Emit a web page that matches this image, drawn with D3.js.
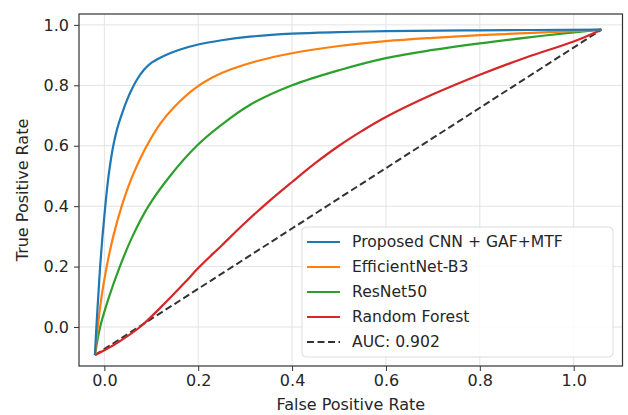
<!DOCTYPE html>
<html>
  <head>
  <title>ROC Curves</title>
  <style>
    body, html {
      margin: 0;
      padding: 0;
      background: #fff;
    }
    svg text {
      font-family: "DejaVu Sans", sans-serif;
      fill: #262626;
    }
  </style>
  </head>
  <body>
    <svg id="svg" width="628" height="415"></svg>
  <script src="https://cdn.jsdelivr.net/npm/d3@7"></script>
  <script>
    // values
    const seriesNames = ["Proposed CNN + GAF+MTF", "EfficientNet-B3", "ResNet50", "Random Forest"]
    const seriesColors = ["#1f77b4", "#ff7f0e", "#2ca02c", "#d62728"]

    const fprProposed = [-0.02, -0.017, -0.013, -0.009, -0.004, 0.002, 0.009, 0.019, 0.028, 0.038, 0.048, 0.058, 0.07, 0.085, 0.1, 0.12, 0.14, 0.165, 0.2, 0.25, 0.31, 0.4, 0.5, 0.6, 0.8, 1.059]
    const tprProposed = [-0.093, 0.0, 0.1, 0.2, 0.3, 0.4, 0.5, 0.6, 0.66, 0.708, 0.75, 0.785, 0.82, 0.852, 0.874, 0.892, 0.906, 0.92, 0.935, 0.949, 0.961, 0.971, 0.976, 0.979, 0.982, 0.984]

    const fprEfficient = [-0.02, -0.014, -0.006, 0.005, 0.019, 0.037, 0.06, 0.087, 0.12, 0.15, 0.193, 0.23, 0.27, 0.33, 0.4, 0.5, 0.6, 0.7, 0.8, 0.9, 1.0, 1.059]
    const tprEfficient = [-0.093, 0.0, 0.1, 0.2, 0.3, 0.4, 0.5, 0.59, 0.675, 0.73, 0.79, 0.826, 0.853, 0.882, 0.906, 0.93, 0.946, 0.957, 0.966, 0.973, 0.979, 0.984]

    const fprResNet = [-0.02, -0.009, 0.01, 0.033, 0.06, 0.094, 0.14, 0.197, 0.25, 0.31, 0.4, 0.5, 0.6, 0.7, 0.8, 0.9, 1.0, 1.059]
    const tprResNet = [-0.093, 0.0, 0.1, 0.2, 0.3, 0.4, 0.5, 0.6, 0.67, 0.735, 0.8, 0.85, 0.89, 0.917, 0.939, 0.958, 0.975, 0.984]

    const fprForest = [-0.02, 0.0, 0.03, 0.076, 0.12, 0.172, 0.2, 0.25, 0.3, 0.35, 0.4, 0.45, 0.5, 0.55, 0.6, 0.7, 0.8, 0.9, 1.0, 1.059]
    const tprForest = [-0.093, -0.077, -0.05, 0.0, 0.065, 0.148, 0.195, 0.27, 0.345, 0.415, 0.48, 0.543, 0.6, 0.65, 0.695, 0.77, 0.835, 0.893, 0.945, 0.984]

    const fprChance = [-0.02, 1.059]
    const tprChance = [-0.093, 0.984]
    const chanceLabel = "AUC: 0.902"

    const xTicks = [0.0, 0.2, 0.4, 0.6, 0.8, 1.0]
    const yTicks = [0.0, 0.2, 0.4, 0.6, 0.8, 1.0]

    function renderChart() {
      const svg = d3.select('#svg')
      const plot = { left: 79, right: 622.5, top: 14, bottom: 366 }

      const xScale = d3.scaleLinear().domain([-0.054, 1.104]).range([plot.left, plot.right])
      const yScale = d3.scaleLinear().domain([-0.129, 1.036]).range([plot.bottom, plot.top])

      // grid
      svg.append("g")
        .selectAll("line")
        .data(xTicks)
        .enter().append("line")
        .attr("x1", d => xScale(d)).attr("x2", d => xScale(d))
        .attr("y1", plot.top).attr("y2", plot.bottom)
        .attr("stroke", "#e3e3e3").attr("stroke-width", 1)
      svg.append("g")
        .selectAll("line")
        .data(yTicks)
        .enter().append("line")
        .attr("y1", d => yScale(d)).attr("y2", d => yScale(d))
        .attr("x1", plot.left).attr("x2", plot.right)
        .attr("stroke", "#e3e3e3").attr("stroke-width", 1)

      // axes
      const xAxis = svg.append("g")
        .attr("transform", `translate(0, ${plot.bottom})`)
        .call(d3.axisBottom(xScale).tickValues(xTicks).tickFormat(d3.format(".1f")).tickSize(5).tickPadding(4))
      const yAxis = svg.append("g")
        .attr("transform", `translate(${plot.left}, 0)`)
        .call(d3.axisLeft(yScale).tickValues(yTicks).tickFormat(d3.format(".1f")).tickSize(5).tickPadding(5))
      for (const ax of [xAxis, yAxis]) {
        ax.select(".domain").remove()
        ax.selectAll("line").attr("stroke", "#333")
        ax.selectAll("text").style("font-size", "16px").attr("fill", "#262626")
      }

      // curves
      const line = d3.line()
        .x(d => xScale(d[0]))
        .y(d => yScale(d[1]))
        .curve(d3.curveCatmullRom.alpha(0.5))

      const curves = [
        [fprProposed, tprProposed],
        [fprEfficient, tprEfficient],
        [fprResNet, tprResNet],
        [fprForest, tprForest]
      ]

      svg.append("path")
        .datum(d3.zip(fprChance, tprChance))
        .attr("d", line)
        .attr("fill", "none")
        .attr("stroke", "#333")
        .attr("stroke-width", 2)
        .attr("stroke-dasharray", "7,3.5")

      // draw in reverse so the proposed curve sits on top
      for (let i = curves.length - 1; i >= 0; i--) {
        svg.append("path")
          .datum(d3.zip(curves[i][0], curves[i][1]))
          .attr("d", line)
          .attr("fill", "none")
          .attr("stroke", seriesColors[i])
          .attr("stroke-width", 2.2)
          .attr("stroke-linejoin", "round")
      }

      // frame
      svg.append("rect")
        .attr("x", plot.left).attr("y", plot.top)
        .attr("width", plot.right - plot.left).attr("height", plot.bottom - plot.top)
        .attr("fill", "none").attr("stroke", "#333").attr("stroke-width", 1.2)

      // axis labels
      svg.append("text")
        .attr("x", (plot.left + plot.right) / 2).attr("y", 410)
        .attr("text-anchor", "middle")
        .style("font-size", "16px")
        .text("False Positive Rate")
      svg.append("text")
        .attr("transform", `translate(28, ${(plot.top + plot.bottom) / 2}) rotate(-90)`)
        .attr("text-anchor", "middle")
        .style("font-size", "16px")
        .text("True Positive Rate")

      // legend
      const legendData = seriesNames.map((name, i) => ({ label: name, color: seriesColors[i], dash: null }))
      legendData.push({ label: chanceLabel, color: "#333", dash: "7,3.5" })

      const legend = svg.append("g")
        .attr("transform", "translate(302, 227)")
      legend.append("rect")
        .attr("width", 311).attr("height", 130)
        .attr("rx", 4)
        .attr("fill", "#fff").attr("fill-opacity", 0.85)
        .attr("stroke", "#dcdcdc")
      legend.selectAll("line")
        .data(legendData)
        .enter().append("line")
        .attr("x1", 5).attr("x2", 38)
        .attr("y1", (d, i) => 15 + i * 25).attr("y2", (d, i) => 15 + i * 25)
        .attr("stroke", d => d.color)
        .attr("stroke-width", 2.2)
        .attr("stroke-dasharray", d => d.dash)
      legend.selectAll("text")
        .data(legendData)
        .enter().append("text")
        .attr("x", 50)
        .attr("y", (d, i) => 15 + i * 25)
        .attr("dy", "0.35em")
        .style("font-size", "15.6px")
        .text(d => d.label)
    }
    renderChart()
  </script>
  </body>
</html>
